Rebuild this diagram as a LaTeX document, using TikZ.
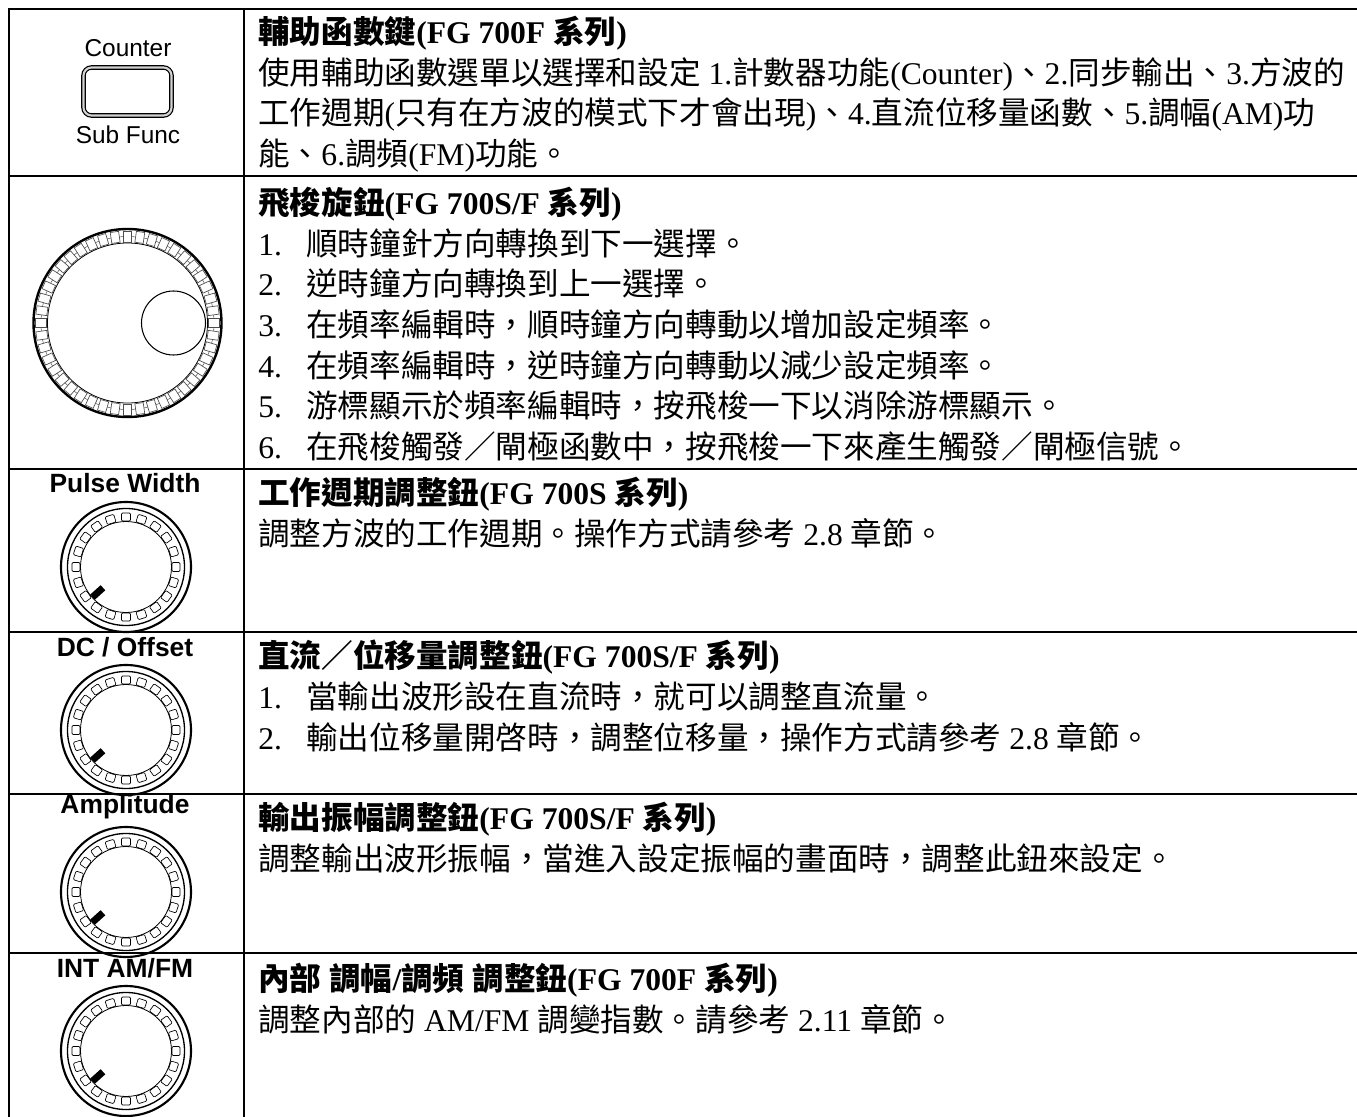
\documentclass[tikz,border=0pt]{standalone}
\usepackage{fontspec}
\setmainfont{Noto Sans CJK TC}
\newfontfamily\latfont{Liberation Serif}
\newfontfamily\panelfont{Liberation Sans}
\newcommand\lat[1]{{\latfont #1}}
\newcommand\itemno[1]{\makebox[36pt][l]{\latfont #1.}}

\tikzset{
  grid line/.style={line width=1.8pt},
  desc/.style={anchor=north west, inner sep=0pt, align=left,
    font=\fontsize{23.7}{30.5}\selectfont},
  knob label/.style={inner sep=0pt, font=\panelfont\bfseries\fontsize{19.8}{22}\selectfont},
  key label/.style={inner sep=0pt, font=\panelfont\fontsize{18.3}{20}\selectfont},
  knob/.pic={
    \draw[line width=1.6pt] (0,0) circle (65);
    \draw[line width=1pt] (0,0) circle (58.5);
    \draw[line width=0.6pt] (0,0) circle (45.5);
    \foreach \a in {0,18,...,342}
      \draw[line width=0.5pt, rotate=\a, rounded corners=0.8pt] (46,-4.5) rectangle (54,4.5);
    \draw[line width=5.2pt] (138:31) -- (138:45);
  }
}

\begin{document}
\begin{tikzpicture}[x=0.75pt, y=-0.75pt]
	\useasboundingbox (0,0) rectangle (1357,1117);
	
	% table
	\draw[grid line] (9,1117) -- (9,9) -- (1357,9);
	\draw[grid line] (244,9) -- (244,1117);
	\foreach \y in {176,469,632,794,953}
		\draw[grid line] (9,\y) -- (1357,\y);
	
	% sub func key
	\node[key label] (counter) at (128,48) {Counter};
	\node[draw, line width=0.9pt, double=gray!35, double distance=1.6pt, rounded corners=6pt,
		minimum width=66pt, minimum height=36pt] (subkey) at (127.5,91.5) {};
	\node[key label] (subfunc) at (128,135) {Sub Func};
	
	% jog wheel
	\draw[line width=1.8pt] (127.5,323) circle (94);
	\draw[line width=0.6pt] (127.5,323) circle (80);
	\draw[line width=0.4pt, gray!70!black] (127.5,323) circle (86.5);
	\foreach \i in {0,...,43}
		\draw[line width=0.5pt, gray!60!black, fill=white, shift={(127.5,323)}, rotate=\i*360/44]
			(81,-4.2) rectangle (92,4.2);
	\draw[line width=0.8pt] (173.5,323) circle (32);
	
	% small knobs
	\node[knob label] (pulse) at (125,483) {Pulse Width};
	\pic at (126,567) {knob};
	\node[knob label] (offset) at (125,647) {DC / Offset};
	\pic at (126,730) {knob};
	\node[knob label] (ampl) at (125,807) {Amplitude};
	\pic at (126,892) {knob};
	\node[knob label] (intmod) at (125,968) {INT AM/FM};
	\pic at (126,1051) {knob};
	
	% descriptions
	\node[desc] (t1) at (258,16) {\textbf{輔助函數鍵\lat{(FG 700F }系列\lat{)}}\\
		使用輔助函數選單以選擇和設定\lat{ 1.}計數器功能\lat{(Counter)}、\lat{2.}同步輸出、\lat{3.}方波的\\
		工作週期\lat{(}只有在方波的模式下才會出現\lat{)}、\lat{4.}直流位移量函數、\lat{5.}調幅\lat{(AM)}功\\
		能、\lat{6.}調頻\lat{(FM)}功能。};
	\node[desc] (t2) at (258,187) {\textbf{飛梭旋鈕\lat{(FG 700S/F }系列\lat{)}}\\
		\itemno{1}順時鐘針方向轉換到下一選擇。\\
		\itemno{2}逆時鐘方向轉換到上一選擇。\\
		\itemno{3}在頻率編輯時，順時鐘方向轉動以增加設定頻率。\\
		\itemno{4}在頻率編輯時，逆時鐘方向轉動以減少設定頻率。\\
		\itemno{5}游標顯示於頻率編輯時，按飛梭一下以消除游標顯示。\\
		\itemno{6}在飛梭觸發／閘極函數中，按飛梭一下來產生觸發／閘極信號。};
	\node[desc] (t3) at (258,477) {\textbf{工作週期調整鈕\lat{(FG 700S }系列\lat{)}}\\
		調整方波的工作週期。操作方式請參考\lat{ 2.8 }章節。};
	\node[desc] (t4) at (258,640) {\textbf{直流／位移量調整鈕\lat{(FG 700S/F }系列\lat{)}}\\
		\itemno{1}當輸出波形設在直流時，就可以調整直流量。\\
		\itemno{2}輸出位移量開啓時，調整位移量，操作方式請參考\lat{ 2.8 }章節。};
	\node[desc] (t5) at (258,802) {\textbf{輸出振幅調整鈕\lat{(FG 700S/F }系列\lat{)}}\\
		調整輸出波形振幅，當進入設定振幅的畫面時，調整此鈕來設定。};
	\node[desc] (t6) at (258,963) {\textbf{內部\lat{ }調幅\lat{/}調頻\lat{ }調整鈕\lat{(FG 700F }系列\lat{)}}\\
		調整內部的\lat{ AM/FM }調變指數。請參考\lat{ 2.11 }章節。};
\end{tikzpicture}
\end{document}
